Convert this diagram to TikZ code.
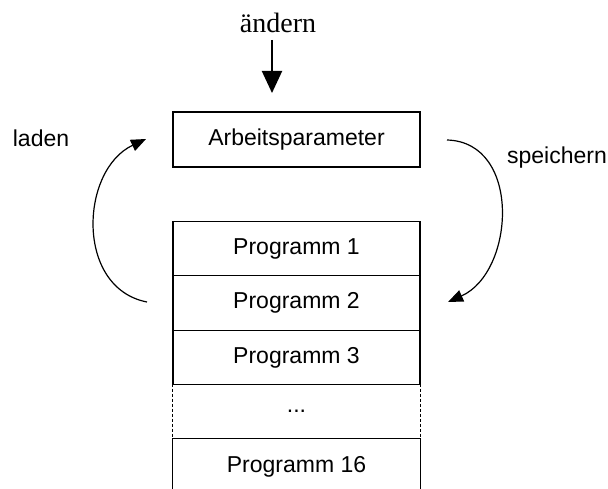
\documentclass[tikz,border=0pt]{standalone}
\usepackage{fontspec}
\setmainfont{Liberation Serif}
\newfontfamily\arialfont{Liberation Sans}
\usetikzlibrary{arrows.meta}
\begin{document}
\begin{tikzpicture}[x=1pt,y=-1pt,
  boxtext/.style={font=\arialfont\fontsize{23}{27}\selectfont},
  cell/.style={boxtext,rectangle,minimum width=247pt,minimum height=54.5pt,inner sep=0pt,line width=1.4pt},
  frame/.style={line width=1.4pt},
  arc/.style={line width=1.2pt,-{Triangle[length=15pt,width=12pt]}},
  lbl/.style={boxtext,anchor=base,inner sep=0pt}]
\useasboundingbox (0,0) rectangle (608,489);
\clip (0,0) rectangle (608,489);
% top label and arrow
\node[anchor=base,inner sep=0pt,font=\fontsize{28}{32}\selectfont] (chg) at (278,33) {ändern};
\node[cell,draw,minimum height=55pt] (ap) at (296.5,139.5) {Arbeitsparameter};
\coordinate (arrtop) at (272,40);
\coordinate (arrtip) at (272,93);
\draw[line width=2pt,-{Triangle[length=22pt,width=20pt]}] (arrtop) -- (arrtip);
% stack
\node[cell,draw] (p1) at (296.5,248.5) {Programm 1};
\node[cell,draw] (p2) at (296.5,303) {Programm 2};
\node[cell,draw] (p3) at (296.5,357.5) {Programm 3};
\node[cell] (pd) at (296.5,411.5) {...};
\node[cell] (p16) at (296.5,466.5) {Programm 16};
\draw[frame,dash pattern=on 3pt off 2pt,line width=1pt] (pd.north west) -- (pd.south west);
\draw[frame,dash pattern=on 3pt off 2pt,line width=1pt] (pd.north east) -- (pd.south east);
\draw[frame] (p16.south west) -- (p16.north west) -- (p16.north east) -- (p16.south east);
% curved arrows
\coordinate (lstart) at (147,302);
\coordinate (lend) at (146,139);
\draw[arc] (lstart) .. controls (75,288) and (80,170) .. (lend);
\coordinate (rstart) at (447,140);
\coordinate (rend) at (448,302);
\draw[arc] (rstart) .. controls (522,142) and (515,272) .. (rend);
% labels
\node[lbl] (laden) at (41,147) {laden};
\node[lbl] (speichern) at (557,164) {speichern};
\end{tikzpicture}
\end{document}
